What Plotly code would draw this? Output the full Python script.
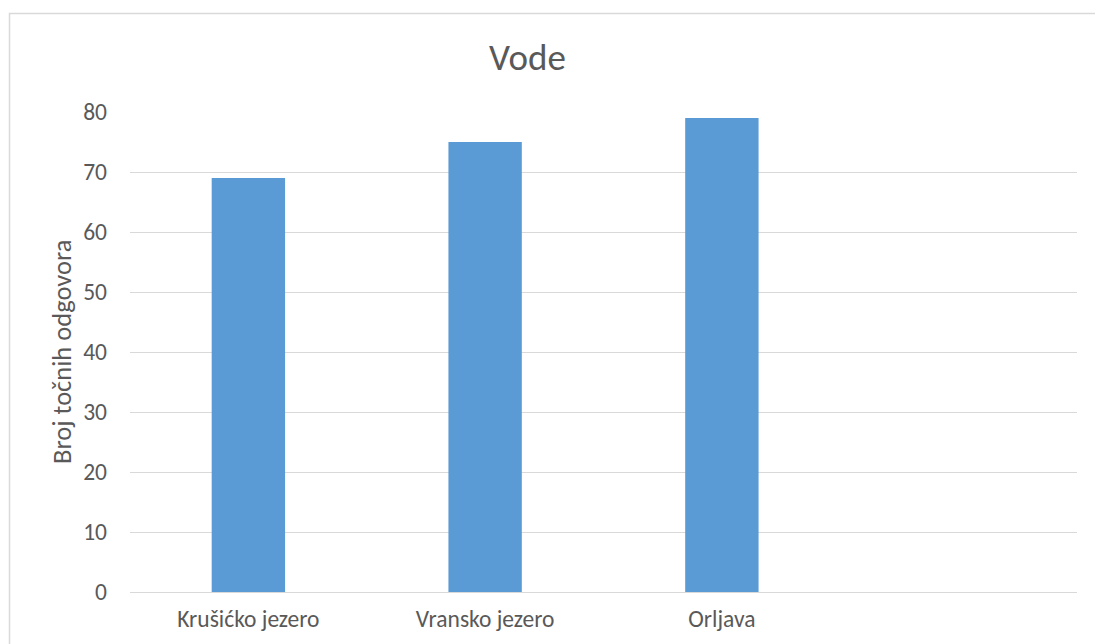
import plotly.graph_objects as go

categories = ["Krušićko jezero", "Vransko jezero", "Orljava"]
values = [69, 75, 79]
y_ticks = [0, 10, 20, 30, 40, 50, 60, 70, 80]

W, H = 1095, 644
L, R, T, B = 130, 1077, 112, 592
pw, ph = R - L, B - T

def px(x):
    return (x - L) / pw

def py(y):
    return (B - y) / ph

font_family = "Carlito, Lato, 'Open Sans', sans-serif"
txt = "#595959"

fig = go.Figure()
fig.add_trace(go.Bar(
    x=list(range(len(categories))),
    y=values,
    width=0.31,
    marker=dict(color="#5B9BD5", line=dict(width=0)),
    hoverinfo="skip",
))

fig.update_layout(
    width=W, height=H,
    margin=dict(l=L, r=W - R, t=T, b=H - B),
    paper_bgcolor="white",
    plot_bgcolor="white",
    showlegend=False,
    font=dict(family=font_family, color=txt),
    xaxis=dict(
        range=[-0.5, 3.5],
        tickvals=list(range(len(categories))),
        ticktext=categories,
        showgrid=False,
        zeroline=False,
        showline=False,
        ticks="",
        tickfont=dict(size=23.5, color=txt),
        ticklabelstandoff=10,
    ),
    yaxis=dict(
        range=[0, 80],
        tickvals=y_ticks,
        showgrid=True,
        gridcolor="#D9D9D9",
        gridwidth=1,
        zeroline=True,
        zerolinecolor="#D9D9D9",
        zerolinewidth=1,
        showline=False,
        ticks="",
        tickfont=dict(size=23.5, color=txt),
        ticklabelstandoff=22,
    ),
    shapes=[
        dict(type="rect", xref="paper", yref="paper",
             x0=px(9.5), x1=px(1110), y0=py(13.5), y1=py(660),
             line=dict(color="#D9D9D9", width=1.5), fillcolor="rgba(0,0,0,0)",
             layer="below"),
    ],
    annotations=[
        dict(text="Vode", xref="paper", yref="paper", x=px(527), y=py(57),
             xanchor="center", yanchor="middle", showarrow=False,
             font=dict(size=37, color=txt, family=font_family)),
        dict(text="Broj točnih odgovora", xref="paper", yref="paper",
             x=px(62), y=py(352), xanchor="center", yanchor="middle",
             textangle=-90, showarrow=False,
             font=dict(size=26.5, color=txt, family=font_family)),
    ],
)

fig.write_html("out.html")
